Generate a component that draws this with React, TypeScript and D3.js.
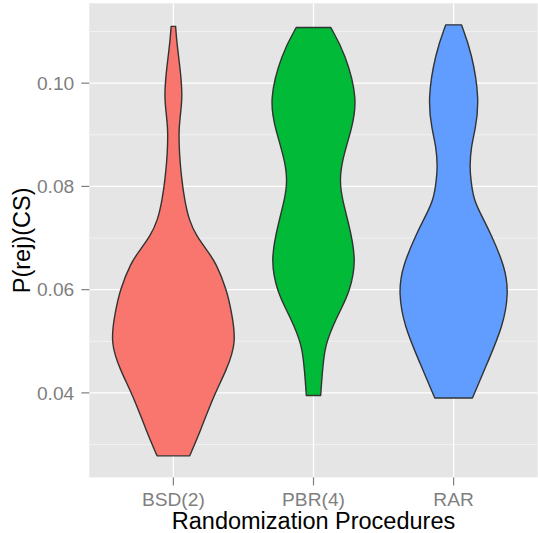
import React from 'react';
import * as d3 from 'd3';

// groups on the x axis
const categories = ['BSD(2)', 'PBR(4)', 'RAR'];
const fills = ['#F8766D', '#00BA38', '#619CFF'];

// violin outlines: P(rej)(CS) value and relative density
const bsdValues = [0.0278, 0.0329, 0.0393, 0.0445, 0.0497, 0.0555, 0.0600, 0.0652, 0.0677, 0.0703, 0.0735, 0.0774, 0.0813, 0.0852, 0.0877, 0.0910, 0.0942, 0.0974, 0.1019, 0.1058, 0.1084, 0.1110];
const bsdDensity = [0.259, 0.437, 0.635, 0.846, 1.0, 0.925, 0.846, 0.675, 0.529, 0.370, 0.246, 0.178, 0.132, 0.103, 0.092, 0.087, 0.114, 0.143, 0.116, 0.076, 0.052, 0.035];

const pbrValues = [0.0395, 0.0439, 0.0484, 0.0503, 0.0529, 0.0561, 0.0594, 0.0658, 0.0735, 0.0774, 0.0810, 0.0852, 0.0910, 0.0968, 0.1058, 0.1108];
const pbrDensity = [0.114, 0.138, 0.179, 0.225, 0.305, 0.429, 0.568, 0.690, 0.543, 0.460, 0.412, 0.456, 0.603, 0.705, 0.503, 0.273];

const rarValues = [0.0390, 0.0464, 0.0529, 0.0594, 0.0645, 0.0710, 0.0742, 0.0774, 0.0813, 0.0839, 0.0877, 0.0910, 0.0968, 0.1058, 0.1113];
const rarDensity = [0.298, 0.556, 0.781, 0.875, 0.813, 0.583, 0.449, 0.317, 0.273, 0.255, 0.278, 0.344, 0.412, 0.290, 0.124];

const yTicks = [0.04, 0.06, 0.08, 0.10];
const yMinor = [0.03, 0.05, 0.07, 0.09, 0.11];

const xTitle = 'Randomization Procedures';
const yTitle = 'P(rej)(CS)';

const W = 538, H = 533;
const margin = { top: 3.3, right: 0.3, bottom: 55.6, left: 89.3 };
const font = '"Liberation Sans", Arial, Helvetica, sans-serif';

export default function App() {
  const groups = [
    { name: categories[0], values: bsdValues, density: bsdDensity, fill: fills[0] },
    { name: categories[1], values: pbrValues, density: pbrDensity, fill: fills[1] },
    { name: categories[2], values: rarValues, density: rarDensity, fill: fills[2] },
  ];

  const left = margin.left, right = W - margin.right;
  const top = margin.top, bottom = H - margin.bottom;

  // ggplot style: 5% expansion on continuous, 0.6 on discrete
  const all = groups.flatMap(g => g.values);
  const [lo, hi] = d3.extent(all) as [number, number];
  const pad = (hi - lo) * 0.05;
  const y = d3.scaleLinear().domain([lo - pad, hi + pad]).range([bottom, top]);
  const x = d3.scalePoint<string>().domain(categories).range([left, right]).padding(0.6);
  const step = x.step();
  const w = d3.scaleLinear().domain([0, 1]).range([0, step * 0.45]);

  const tickColor = '#7F7F7F';

  return (
    <svg width={W} height={H} style={{ position: 'absolute', left: 0, top: 0, background: '#fff' }} fontFamily={font}>
      <rect x={left} y={top} width={right - left} height={bottom - top} fill="#E5E5E5" />
      {yMinor.map(v => (
        <line key={'mn' + v} x1={left} x2={right} y1={y(v)} y2={y(v)} stroke="#F2F2F2" strokeWidth={1} />
      ))}
      {yTicks.map(v => (
        <line key={'mj' + v} x1={left} x2={right} y1={y(v)} y2={y(v)} stroke="#fff" strokeWidth={1.3} />
      ))}
      {categories.map(c => (
        <line key={'vx' + c} x1={x(c)} x2={x(c)} y1={top} y2={bottom} stroke="#fff" strokeWidth={1.3} />
      ))}

      {groups.map(g => {
        const cx = x(g.name) as number;
        const pts = g.values.map((v, i) => ({ v, d: g.density[i] }));
        const area = d3.area<{ v: number; d: number }>()
          .y(p => y(p.v))
          .x0(p => cx - w(p.d))
          .x1(p => cx + w(p.d))
          .curve(d3.curveBasis);
        return (
          <path key={g.name} d={area(pts) || ''} fill={g.fill} stroke="#333333" strokeWidth={1.4} strokeLinejoin="round" />
        );
      })}

      {/* y axis */}
      {yTicks.map(v => (
        <g key={'yt' + v}>
          <line x1={left - 8} x2={left} y1={y(v)} y2={y(v)} stroke={tickColor} strokeWidth={1.2} />
          <text x={left - 15} y={y(v)} dy="0.35em" textAnchor="end" fontSize={19.2} fill={tickColor}>
            {v.toFixed(2)}
          </text>
        </g>
      ))}
      {/* x axis */}
      {categories.map(c => (
        <g key={'xt' + c}>
          <line x1={x(c)} x2={x(c)} y1={bottom} y2={bottom + 8} stroke={tickColor} strokeWidth={1.2} />
          <text x={x(c)} y={506} textAnchor="middle" fontSize={19.2} fill={tickColor}>{c}</text>
        </g>
      ))}

      <text x={(left + right) / 2} y={529} textAnchor="middle" fontSize={23.5} fill="#000">{xTitle}</text>
      <text transform={`translate(30,${(top + bottom) / 2}) rotate(-90)`} textAnchor="middle" fontSize={23.5} fill="#000">{yTitle}</text>
    </svg>
  );
}
